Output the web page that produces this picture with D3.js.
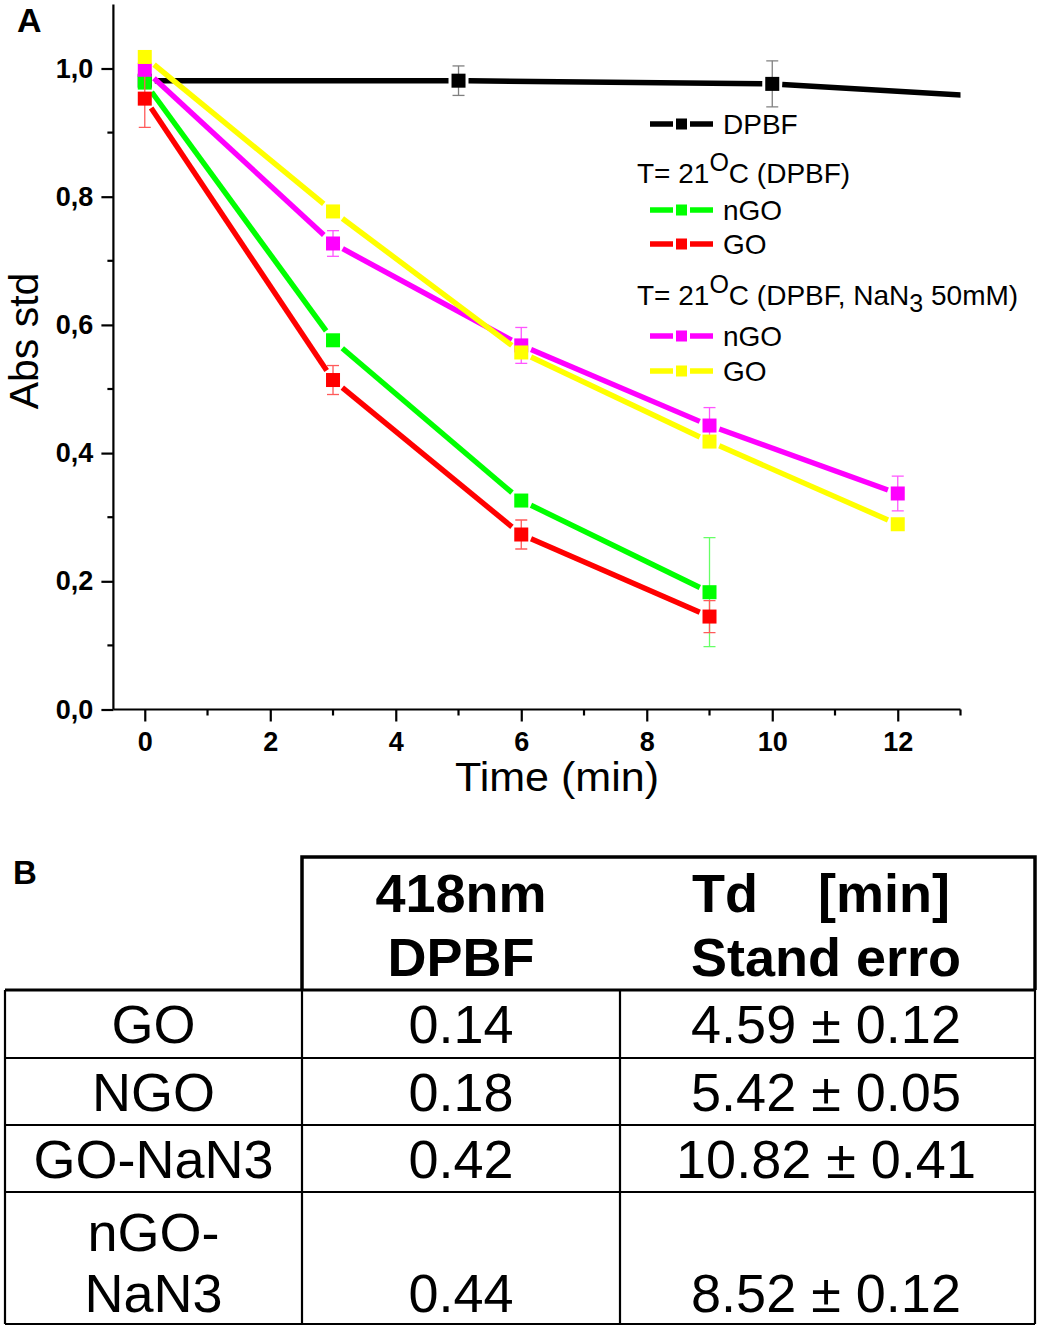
<!DOCTYPE html>
<html><head><meta charset="utf-8">
<script src="https://cdn.jsdelivr.net/npm/d3@7"></script>
<style>body{margin:0;background:#fff}</style>
</head><body>
<svg id="c" width="1041" height="1329"></svg>
<script>
// ---------- DATA ----------
const xTickValues = [0, 2, 4, 6, 8, 10, 12];
const yTickValues = [0, 0.2, 0.4, 0.6, 0.8, 1.0];
const yTickLabels = ["0,0", "0,2", "0,4", "0,6", "0,8", "1,0"];

const dpbfTime = [0, 5, 10, 15];
const dpbfAbs  = [0.981, 0.981, 0.976, 0.947];
const dpbfErr  = [0, 0.023, 0.036, 0];

const timeA = [0, 3, 6, 9];
const nGOAbs = [0.978, 0.576, 0.326, 0.183];
const nGOErr = [0, 0, 0, 0.085];
const GOAbs  = [0.953, 0.514, 0.273, 0.145];
const GOErr  = [0.045, 0.0226, 0.0226, 0.025];

const timeB = [0, 3, 6, 9, 12];
const nGONaN3Abs = [0.998, 0.727, 0.568, 0.443, 0.337];
const nGONaN3Err = [0, 0.02, 0.028, 0.028, 0.027];
const GONaN3Abs  = [1.018, 0.777, 0.557, 0.418, 0.289];
const GONaN3Err  = [0, 0, 0, 0, 0];

const seriesNames = ["DPBF", "nGO", "GO", "nGO", "GO"];
const legendHeaders = ["T= 21", "T= 21"];

const tableHeader1 = ["418nm", "DPBF"];
const tableHeader2 = ["Td    [min]", "Stand erro"];
const tableRowLabels = [["GO"], ["NGO"], ["GO-NaN3"], ["nGO-", "NaN3"]];
const tableDPBF = ["0.14", "0.18", "0.42", "0.44"];
const tableTd = ["4.59 ± 0.12", "5.42 ± 0.05", "10.82 ± 0.41", "8.52 ± 0.12"];

// ---------- STYLE / LAYOUT ----------
const FONT = "'Liberation Sans', Arial, Helvetica, sans-serif";
const svg = d3.select("#c");
const x = d3.scaleLinear().domain([-0.5, 13]).range([113.4, 960.5]);
const y = d3.scaleLinear().domain([0, 1.1]).range([709.5, 4.4]);

const series = [
  {t: dpbfTime, v: dpbfAbs, e: dpbfErr, color: "#000000", ecolor: "#808080"},
  {t: timeA, v: nGOAbs, e: nGOErr, color: "#00ff00", ecolor: "#66ff66"},
  {t: timeA, v: GOAbs, e: GOErr, color: "#ff0000", ecolor: "#ff5a5a"},
  {t: timeB, v: nGONaN3Abs, e: nGONaN3Err, color: "#ff00ff", ecolor: "#ff55ff"},
  {t: timeB, v: GONaN3Abs, e: GONaN3Err, color: "#ffff00", ecolor: "#ffff66"}
];

// panel label A
svg.append("text").attr("x", 17).attr("y", 32).attr("font-family", FONT)
  .attr("font-weight", "bold").attr("font-size", 34).text("A");

// clip
svg.append("defs").append("clipPath").attr("id", "plotclip").append("rect")
  .attr("x", x(-0.5)).attr("y", 0).attr("width", x(13) - x(-0.5)).attr("height", y(0));

// axes
const yAxis = d3.axisLeft(y).tickValues(yTickValues).tickFormat((d, i) => yTickLabels[i])
  .tickSize(12).tickPadding(8);
const gy = svg.append("g").attr("transform", `translate(${x(-0.5)},0)`).call(yAxis);
const xAxis = d3.axisBottom(x).tickValues(xTickValues).tickFormat(d3.format("d"))
  .tickSize(12).tickPadding(10);
const gx = svg.append("g").attr("transform", `translate(0,${y(0)})`).call(xAxis);
[gx, gy].forEach(g => {
  g.select(".domain").attr("stroke", "#000").attr("stroke-width", 2.2);
  g.selectAll(".tick line").attr("stroke", "#000").attr("stroke-width", 2.2);
  g.selectAll(".tick text").attr("font-family", FONT).attr("font-weight", "bold")
    .attr("font-size", 27).attr("fill", "#000");
});
gy.select(".domain").attr("d", `M0,${y(1.1)}V${y(0)}`);
gx.select(".domain").attr("d", `M${x(-0.5)},0H${x(13)}`);
// minor ticks
const xMinor = d3.range(1, 14, 2);
gx.selectAll(".minor").data(xMinor).enter().append("line")
  .attr("x1", d => x(d)).attr("x2", d => x(d)).attr("y1", 0).attr("y2", 6)
  .attr("stroke", "#000").attr("stroke-width", 2.2);
const yMinor = [0.1, 0.3, 0.5, 0.7, 0.9];
gy.selectAll(".minor").data(yMinor).enter().append("line")
  .attr("y1", d => y(d)).attr("y2", d => y(d)).attr("x1", 0).attr("x2", -6)
  .attr("stroke", "#000").attr("stroke-width", 2.2);

// axis titles
svg.append("text").attr("x", 557).attr("y", 791).attr("text-anchor", "middle")
  .attr("font-family", FONT).attr("font-size", 41)
  .attr("textLength", 204).attr("lengthAdjust", "spacingAndGlyphs").text("Time (min)");
svg.append("text").attr("transform", "translate(38,341) rotate(-90)").attr("text-anchor", "middle")
  .attr("font-family", FONT).attr("font-size", 41).text("Abs std");

// series
const H = 7, GAP = 3;
function segs(pts, h, gap) {
  const out = [];
  for (let i = 0; i < pts.length - 1; i++) {
    const [x1, y1] = pts[i], [x2, y2] = pts[i + 1];
    const dx = x2 - x1, dy = y2 - y1, L = Math.hypot(dx, dy);
    const ux = dx / L, uy = dy / L;
    const d = h / Math.max(Math.abs(ux), Math.abs(uy)) + gap;
    out.push([x1 + ux * d, y1 + uy * d, x2 - ux * d, y2 - uy * d]);
  }
  return out;
}
const plot = svg.append("g").attr("clip-path", "url(#plotclip)");
series.forEach(s => {
  const g = plot.append("g");
  const pts = s.t.map((t, i) => [x(t), y(s.v[i])]);
  g.selectAll("line.seg").data(segs(pts, H, GAP)).enter().append("line")
    .attr("x1", d => d[0]).attr("y1", d => d[1]).attr("x2", d => d[2]).attr("y2", d => d[3])
    .attr("stroke", s.color).attr("stroke-width", 5.4);
  const eb = s.t.map((t, i) => ({t, v: s.v[i], e: s.e[i]})).filter(d => d.e > 0);
  const ge = g.selectAll("g.eb").data(eb).enter().append("g").attr("stroke", s.ecolor).attr("stroke-width", 1.3);
  ge.append("line").attr("x1", d => x(d.t)).attr("x2", d => x(d.t))
    .attr("y1", d => y(d.v + d.e)).attr("y2", d => y(d.v - d.e));
  ge.append("line").attr("x1", d => x(d.t) - 6).attr("x2", d => x(d.t) + 6)
    .attr("y1", d => y(d.v + d.e)).attr("y2", d => y(d.v + d.e));
  ge.append("line").attr("x1", d => x(d.t) - 6).attr("x2", d => x(d.t) + 6)
    .attr("y1", d => y(d.v - d.e)).attr("y2", d => y(d.v - d.e));
  g.selectAll("rect").data(s.t.map((t, i) => [t, s.v[i]]).filter(d => d[0] <= 13)).enter().append("rect")
    .attr("x", d => x(d[0]) - H).attr("y", d => y(d[1]) - H)
    .attr("width", 2 * H).attr("height", 2 * H).attr("fill", s.color);
});

// legend
const legBase = [134, 183, 220, 254, 305, 346, 381];
const legRows = [
  {type: "s", si: 0, name: seriesNames[0]},
  {type: "h", k: 0},
  {type: "s", si: 1, name: seriesNames[1]},
  {type: "s", si: 2, name: seriesNames[2]},
  {type: "h", k: 1},
  {type: "s", si: 3, name: seriesNames[3]},
  {type: "s", si: 4, name: seriesNames[4]}
];
const leg = svg.append("g").attr("font-family", FONT).attr("font-size", 28);
legRows.forEach((r, i) => {
  const b = legBase[i];
  if (r.type === "s") {
    const c = series[r.si].color, cy = b - 10;
    leg.append("line").attr("x1", 650).attr("x2", 673).attr("y1", cy).attr("y2", cy).attr("stroke", c).attr("stroke-width", 5.5);
    leg.append("line").attr("x1", 690).attr("x2", 713).attr("y1", cy).attr("y2", cy).attr("stroke", c).attr("stroke-width", 5.5);
    leg.append("rect").attr("x", 676).attr("y", cy - 5.5).attr("width", 11).attr("height", 11).attr("fill", c);
    leg.append("text").attr("x", 723).attr("y", b).text(r.name);
  } else {
    const t = leg.append("text").attr("x", 637).attr("y", b);
    t.append("tspan").text(legendHeaders[r.k]);
    t.append("tspan").attr("font-size", 25).attr("dy", -12).text("O");
    if (r.k === 0) {
      t.append("tspan").attr("dy", 12).text("C (DPBF)");
    } else {
      t.append("tspan").attr("dy", 12).text("C (DPBF, NaN");
      t.append("tspan").attr("font-size", 25).attr("dy", 7).text("3");
      t.append("tspan").attr("dy", -7).text(" 50mM)");
    }
  }
});

// ---------- TABLE ----------
svg.append("text").attr("x", 13).attr("y", 884).attr("font-family", FONT)
  .attr("font-weight", "bold").attr("font-size", 33).text("B");

const colEdges = [5, 302, 620, 1035];
const rowEdges = [990, 1058, 1125, 1192, 1324];
const tbl = svg.append("g");
// header box (thick)
tbl.append("path").attr("d", `M302,990V857H1035V990`).attr("fill", "none")
  .attr("stroke", "#000").attr("stroke-width", 3.5);
tbl.append("line").attr("x1", 5).attr("x2", 1035).attr("y1", 990).attr("y2", 990)
  .attr("stroke", "#000").attr("stroke-width", 3);
rowEdges.slice(1).forEach(r => tbl.append("line").attr("x1", 5).attr("x2", 1035)
  .attr("y1", r).attr("y2", r).attr("stroke", "#000").attr("stroke-width", 2.2));
colEdges.forEach(c => tbl.append("line").attr("x1", c).attr("x2", c)
  .attr("y1", 990).attr("y2", 1324).attr("stroke", "#000").attr("stroke-width", 2.2));

const colMid = [153.5, 461, 826];
const hdr = tbl.append("g").attr("font-family", FONT).attr("font-weight", "bold")
  .attr("font-size", 54).attr("text-anchor", "middle");
[tableHeader1, tableHeader2].forEach((h, ci) => {
  h.forEach((line, li) => {
    hdr.append("text").attr("x", colMid[ci + 1] - (ci === 1 && li === 0 ? 5 : 0)).attr("y", 912 + li * 64)
      .style("white-space", "pre").text(line);
  });
});
const body = tbl.append("g").attr("font-family", FONT).attr("font-size", 54).attr("text-anchor", "middle");
tableRowLabels.forEach((lab, ri) => {
  const top = rowEdges[ri], bot = rowEdges[ri + 1];
  const baseLast = (lab.length === 1) ? (top + bot) / 2 + 19 : bot - 12;
  lab.forEach((l, li) => {
    body.append("text").attr("x", colMid[0]).attr("y", baseLast - (lab.length - 1 - li) * 61).text(l);
  });
  body.append("text").attr("x", colMid[1]).attr("y", baseLast).text(tableDPBF[ri]);
  body.append("text").attr("x", colMid[2]).attr("y", baseLast).text(tableTd[ri]);
});
</script>
</body></html>
